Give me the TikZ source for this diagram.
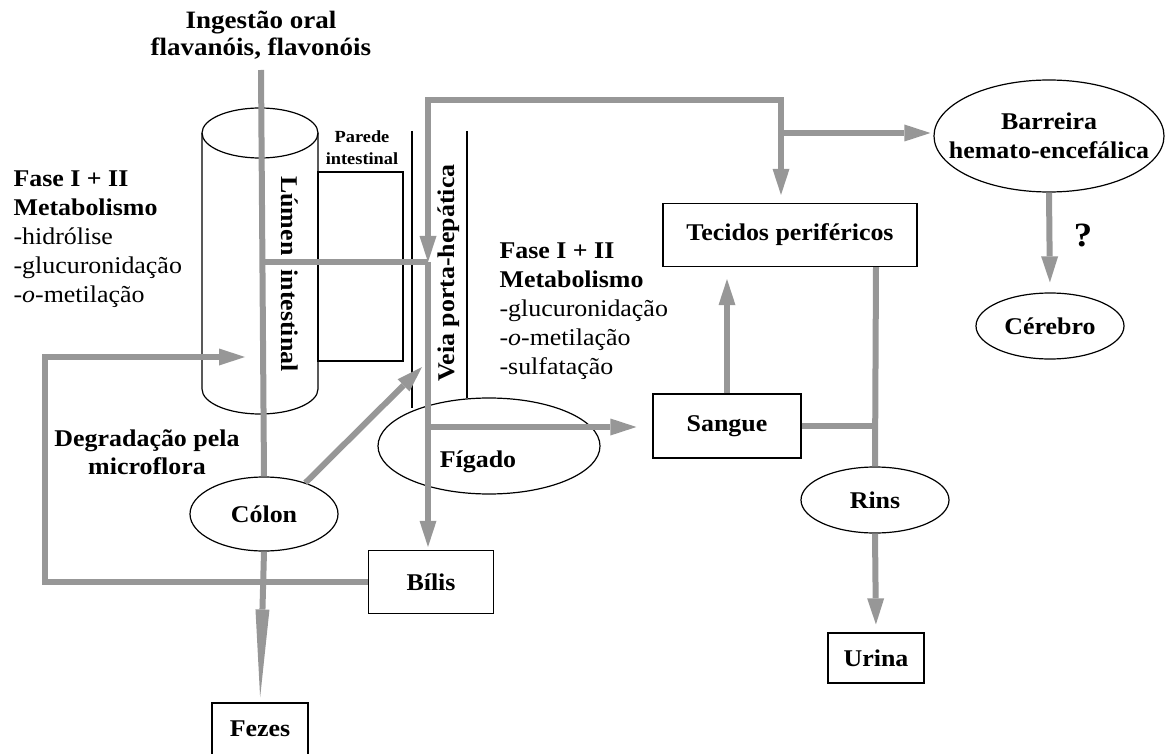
\documentclass[tikz,border=0pt]{standalone}
\usepackage{fontspec}
\setmainfont{Liberation Serif}[FakeStretch=1.08]
\usetikzlibrary{shapes.geometric, arrows.meta, positioning}
\definecolor{fgray}{HTML}{979797}
\newcommand{\bodysize}{\fontsize{24}{29}\selectfont}
\tikzstyle{organ} = [ellipse, draw, line width=1.2pt, inner sep=-6pt, font=\bodysize\bfseries]
\tikzstyle{compart} = [rectangle, draw, line width=1.2pt, inner sep=0pt, font=\bodysize\bfseries]
\tikzstyle{wall} = [line width=1.2pt]
\tikzstyle{vessel} = [line width=1.8pt]
\tikzstyle{flow} = [line width=6pt, fgray]
\tikzstyle{flowarrow} = [flow, -{Triangle[length=26pt, width=17pt, line width=0pt]}]

\begin{document}
\begin{tikzpicture}[x=1pt, y=-1pt, font=\bodysize]
\useasboundingbox (0,0) rectangle (1165,754);
%Intestine and vein
\draw[wall] (202,133) -- (202,389) arc[start angle=180, end angle=0, x radius=58, y radius=25] -- (318,133);
\draw[wall] (260,133) ellipse [x radius=58, y radius=25];
\draw[wall] (318,172) rectangle (403,361);
\draw[vessel] (412,131) -- (412,408);
\draw[vessel] (467,131) -- (467,398);
%Labels
\node (ingest) [font=\fontsize{25}{27}\selectfont\bfseries, align=center] at (261,35) {Ingestão oral\\flavanóis, flavonóis};
\node (fase1) [anchor=west, align=left] at (10,239) {\textbf{Fase I + II}\\\textbf{Metabolismo}\\-hidrólise\\-glucuronidação\\-\textit{o}-metilação};
\node (fase2) [anchor=west, align=left] at (496,311) {\textbf{Fase I + II}\\\textbf{Metabolismo}\\-glucuronidação\\-\textit{o}-metilação\\-sulfatação};
\node (degrad) [font=\fontsize{24}{28}\selectfont\bfseries, align=center] at (147,452) {Degradação pela\\microflora};
\node (parede) [font=\fontsize{17}{22}\selectfont\bfseries, align=center] at (362,148) {Parede\\intestinal};
\node (lumen) [rotate=-90, font=\bodysize\bfseries] at (290,274) {Lúmen\hspace{14pt}intestinal};
\node (veia) [rotate=90, font=\bodysize\bfseries] at (449,273) {Veia porta-hepática};
%Organs and compartments
\node (colon) [organ, minimum width=148pt, minimum height=74pt] at (264,514) {Cólon};
\node (figado) [organ, minimum width=222pt, minimum height=96pt] at (489,446) {};
\node (figtxt) [font=\bodysize\bfseries] at (478,462) {Fígado};
\node (sangue) [compart, minimum width=148pt, minimum height=64pt] at (727,426) {Sangue};
\node (tecidos) [compart, minimum width=254pt, minimum height=63pt] at (790,235) {Tecidos periféricos};
\node (barreira) [organ, inner sep=-30pt, minimum width=230pt, minimum height=112pt, align=center] at (1049,136) {Barreira\\hemato-encefálica};
\node (cerebro) [organ, minimum width=148pt, minimum height=66pt] at (1050,326) {Cérebro};
\node (rins) [organ, minimum width=148pt, minimum height=66pt] at (875,500) {Rins};
\node (bilis) [compart, minimum width=125pt, minimum height=63pt] at (431,582) {Bílis};
\node (fezes) [compart, minimum width=96pt, minimum height=52pt] at (260,729) {Fezes};
\node (urina) [compart, minimum width=96pt, minimum height=50pt] at (876,658) {Urina};
\node (quest) [font=\fontsize{34}{34}\selectfont\bfseries] at (1083,235) {?};
%Junctions
\coordinate (mouth) at (261,70);
\coordinate (lj) at (261,262);
\coordinate (vtop) at (428,100);
\coordinate (vj) at (428,262);
\coordinate (fj) at (428,427);
\coordinate (tj) at (781,100);
\coordinate (bj) at (781,133);
\coordinate (vin) at (422,367);
\coordinate (loop) at (45,357);
\coordinate (lin) at (245,357);
\coordinate (rj) at (876,429);
%Flows
\draw[flow] (mouth) -- (colon.north);
\draw[flow, -{Triangle[length=88pt, width=14pt, line width=0pt]}, shorten >=5pt] (colon.south) -- (fezes.north);
\draw[flow] (lj) -- (vj);
\draw[flowarrow, line cap=rect] (tj) -- (vtop) -- (vj);
\draw[flowarrow, shorten >=3pt] (vj) -- (vj |- bilis.north);
\draw[flowarrow, shorten >=8pt] (tj) -- (tj |- tecidos.north);
\draw[flowarrow, shorten >=3pt] (bj) -- (bj -| barreira.west);
\draw[flowarrow, shorten >=10pt] (barreira.south) -- (cerebro.north);
\draw[flowarrow] (colon.37) -- (vin);
\draw[flowarrow, shorten >=16pt] (fj) -- (fj -| sangue.west);
\draw[flowarrow, shorten >=12pt] (sangue.north) -- (sangue.north |- tecidos.south);
\draw[flow] (tecidos.south -| rj) -- (rins.north);
\draw[flow] (sangue.east) -- (sangue.east -| rj);
\draw[flowarrow, shorten >=8pt] (rins.south) -- (urina.north);
\draw[flowarrow] (bilis.west) -| (loop) -- (lin);
\end{tikzpicture}
\end{document}
